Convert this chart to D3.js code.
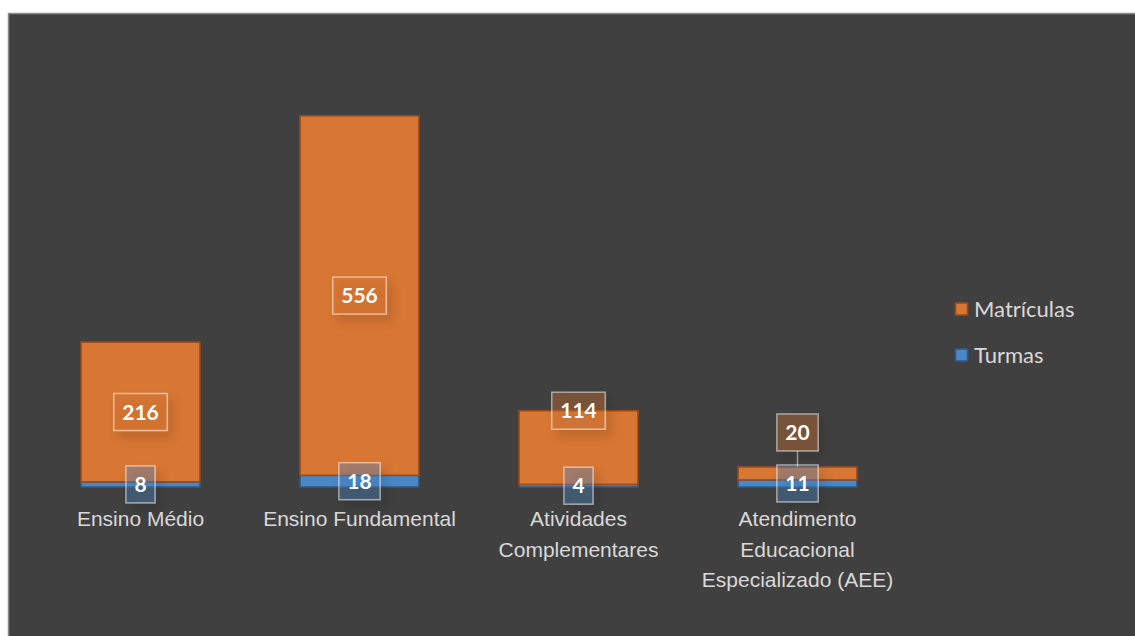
<!DOCTYPE html>
<html>
<head>
<meta charset="utf-8">
<script src="https://cdn.jsdelivr.net/npm/d3@7"></script>
<style>
  body { margin: 0; background: #ffffff; }
  svg { display: block; font-family: Lato, "Open Sans", sans-serif; }
</style>
</head>
<body>
<svg id="chart" width="1135" height="636"></svg>
<script>
var categories = ["Ensino Médio", "Ensino Fundamental", "Atividades Complementares", "Atendimento Educacional Especializado (AEE)"]
var catLines = [["Ensino Médio"], ["Ensino Fundamental"], ["Atividades", "Complementares"], ["Atendimento", "Educacional", "Especializado (AEE)"]]
var turmas = [8, 18, 4, 11]
var matriculas = [216, 556, 114, 20]
var seriesNames = ["Matrículas", "Turmas"]

var dimensions = {
    width: 1135,
    height: 636,
    margin: { top: 99, bottom: 149, left: 31, right: 228 }
}

var colors = {
    "Matrículas": { fill: "#d87633", stroke: "#9c4a17" },
    "Turmas": { fill: "#4a87c6", stroke: "#2b5a8c" }
}

var dataset = categories.map((c, i) => ({ cat: c, lines: catLines[i], "Turmas": turmas[i], "Matrículas": matriculas[i] }))

var svg = d3.select("#chart")

// drop shadow for the label boxes
var defs = svg.append("defs")
var f = defs.append("filter").attr("id", "shadow").attr("x", "-50%").attr("y", "-50%").attr("width", "200%").attr("height", "200%")
f.append("feDropShadow").attr("dx", 5).attr("dy", 7).attr("stdDeviation", 5)
 .attr("flood-color", "#000").attr("flood-opacity", 0.3)

// chart area background
svg.append("rect")
   .attr("x", 8.5).attr("y", 13.5)
   .attr("width", dimensions.width).attr("height", dimensions.height)
   .attr("fill", "#404040")
   .attr("stroke", "#8c8c8c")
   .attr("stroke-width", 1.5)

var xScale = d3.scaleBand()
               .domain(categories)
               .range([dimensions.margin.left, dimensions.width - dimensions.margin.right])
               .paddingInner(0.457)
               .paddingOuter(0.2285)

var yScale = d3.scaleLinear()
               .domain([0, 600])
               .range([dimensions.height - dimensions.margin.bottom, dimensions.margin.top])

var stack = d3.stack().keys(["Turmas", "Matrículas"])
var layers = stack(dataset)

var bars = svg.append("g")
layers.forEach(layer => {
    bars.append("g")
        .selectAll("rect")
        .data(layer)
        .enter()
        .append("rect")
        .attr("x", d => xScale(d.data.cat))
        .attr("y", d => yScale(d[1]))
        .attr("width", xScale.bandwidth())
        .attr("height", d => yScale(d[0]) - yScale(d[1]))
        .attr("fill", colors[layer.key].fill)
        .attr("stroke", colors[layer.key].stroke)
        .attr("stroke-width", 1.5)
})

// x axis labels (no line, no ticks)
var xAxisGen = d3.axisBottom().scale(xScale).tickSize(0).tickFormat("")
var xAxis = svg.append("g")
               .call(xAxisGen)
               .attr("transform", `translate(0, ${dimensions.height - dimensions.margin.bottom})`)
xAxis.select(".domain").remove()

xAxis.selectAll(".tick").each(function(c, i) {
    var t = d3.select(this).append("text")
              .attr("fill", "#d9d9d9")
              .attr("text-anchor", "middle")
              .style("font-size", "21px")
    catLines[i].forEach((line, j) => {
        t.append("tspan").attr("x", 0).attr("y", 39 + j * 30.5).text(line)
    })
})

// data labels
var labels = svg.append("g")
var boxH = 37

function drawLabel(cx, cy, value, color) {
    var g = labels.append("g").attr("transform", `translate(${cx}, ${cy})`)
    var txt = g.append("text")
               .attr("text-anchor", "middle")
               .attr("dy", "0.36em")
               .attr("fill", "#ffffff")
               .style("font-size", "21px")
               .style("font-weight", "bold")
               .text(value)
    var w = txt.node().getComputedTextLength() + 17
    g.insert("rect", "text")
     .attr("x", -w / 2).attr("y", -boxH / 2)
     .attr("width", w).attr("height", boxH)
     .attr("fill", color)
     .attr("fill-opacity", 0.35)
     .attr("stroke", "#ffffff")
     .attr("stroke-opacity", 0.5)
     .attr("stroke-width", 1.5)
     .attr("filter", "url(#shadow)")
}

var gap = 14
dataset.forEach(d => {
    var cx = xScale(d.cat) + xScale.bandwidth() / 2
    var tY = (yScale(0) + yScale(d["Turmas"])) / 2
    var turmasTop = tY - boxH / 2
    var top = yScale(d["Turmas"] + d["Matrículas"])
    var mY = (top + yScale(d["Turmas"])) / 2
    if (mY + boxH / 2 > turmasTop - gap) {
        mY = top
        if (mY + boxH / 2 > turmasTop - gap) {
            mY = turmasTop - gap - boxH / 2
            // leader line
            labels.append("line")
                  .attr("x1", cx).attr("x2", cx)
                  .attr("y1", mY + boxH / 2).attr("y2", top)
                  .attr("stroke", "#a6a6a6")
                  .attr("stroke-width", 1.5)
        }
    }
    drawLabel(cx, mY, d["Matrículas"], colors["Matrículas"].fill)
    drawLabel(cx, tY, d["Turmas"], colors["Turmas"].fill)
})

// legend
var legend = svg.append("g").attr("transform", "translate(955, 309)")
seriesNames.forEach((s, i) => {
    var row = legend.append("g").attr("transform", `translate(0, ${i * 46})`)
    row.append("rect")
       .attr("x", 0.5).attr("y", -6)
       .attr("width", 12).attr("height", 12)
       .attr("fill", colors[s].fill)
       .attr("stroke", colors[s].stroke)
       .attr("stroke-width", 1.5)
    row.append("text")
       .attr("x", 19).attr("y", 0)
       .attr("dy", "0.35em")
       .attr("fill", "#d9d9d9")
       .style("font-size", "22px")
       .text(s)
})
</script>
</body>
</html>
